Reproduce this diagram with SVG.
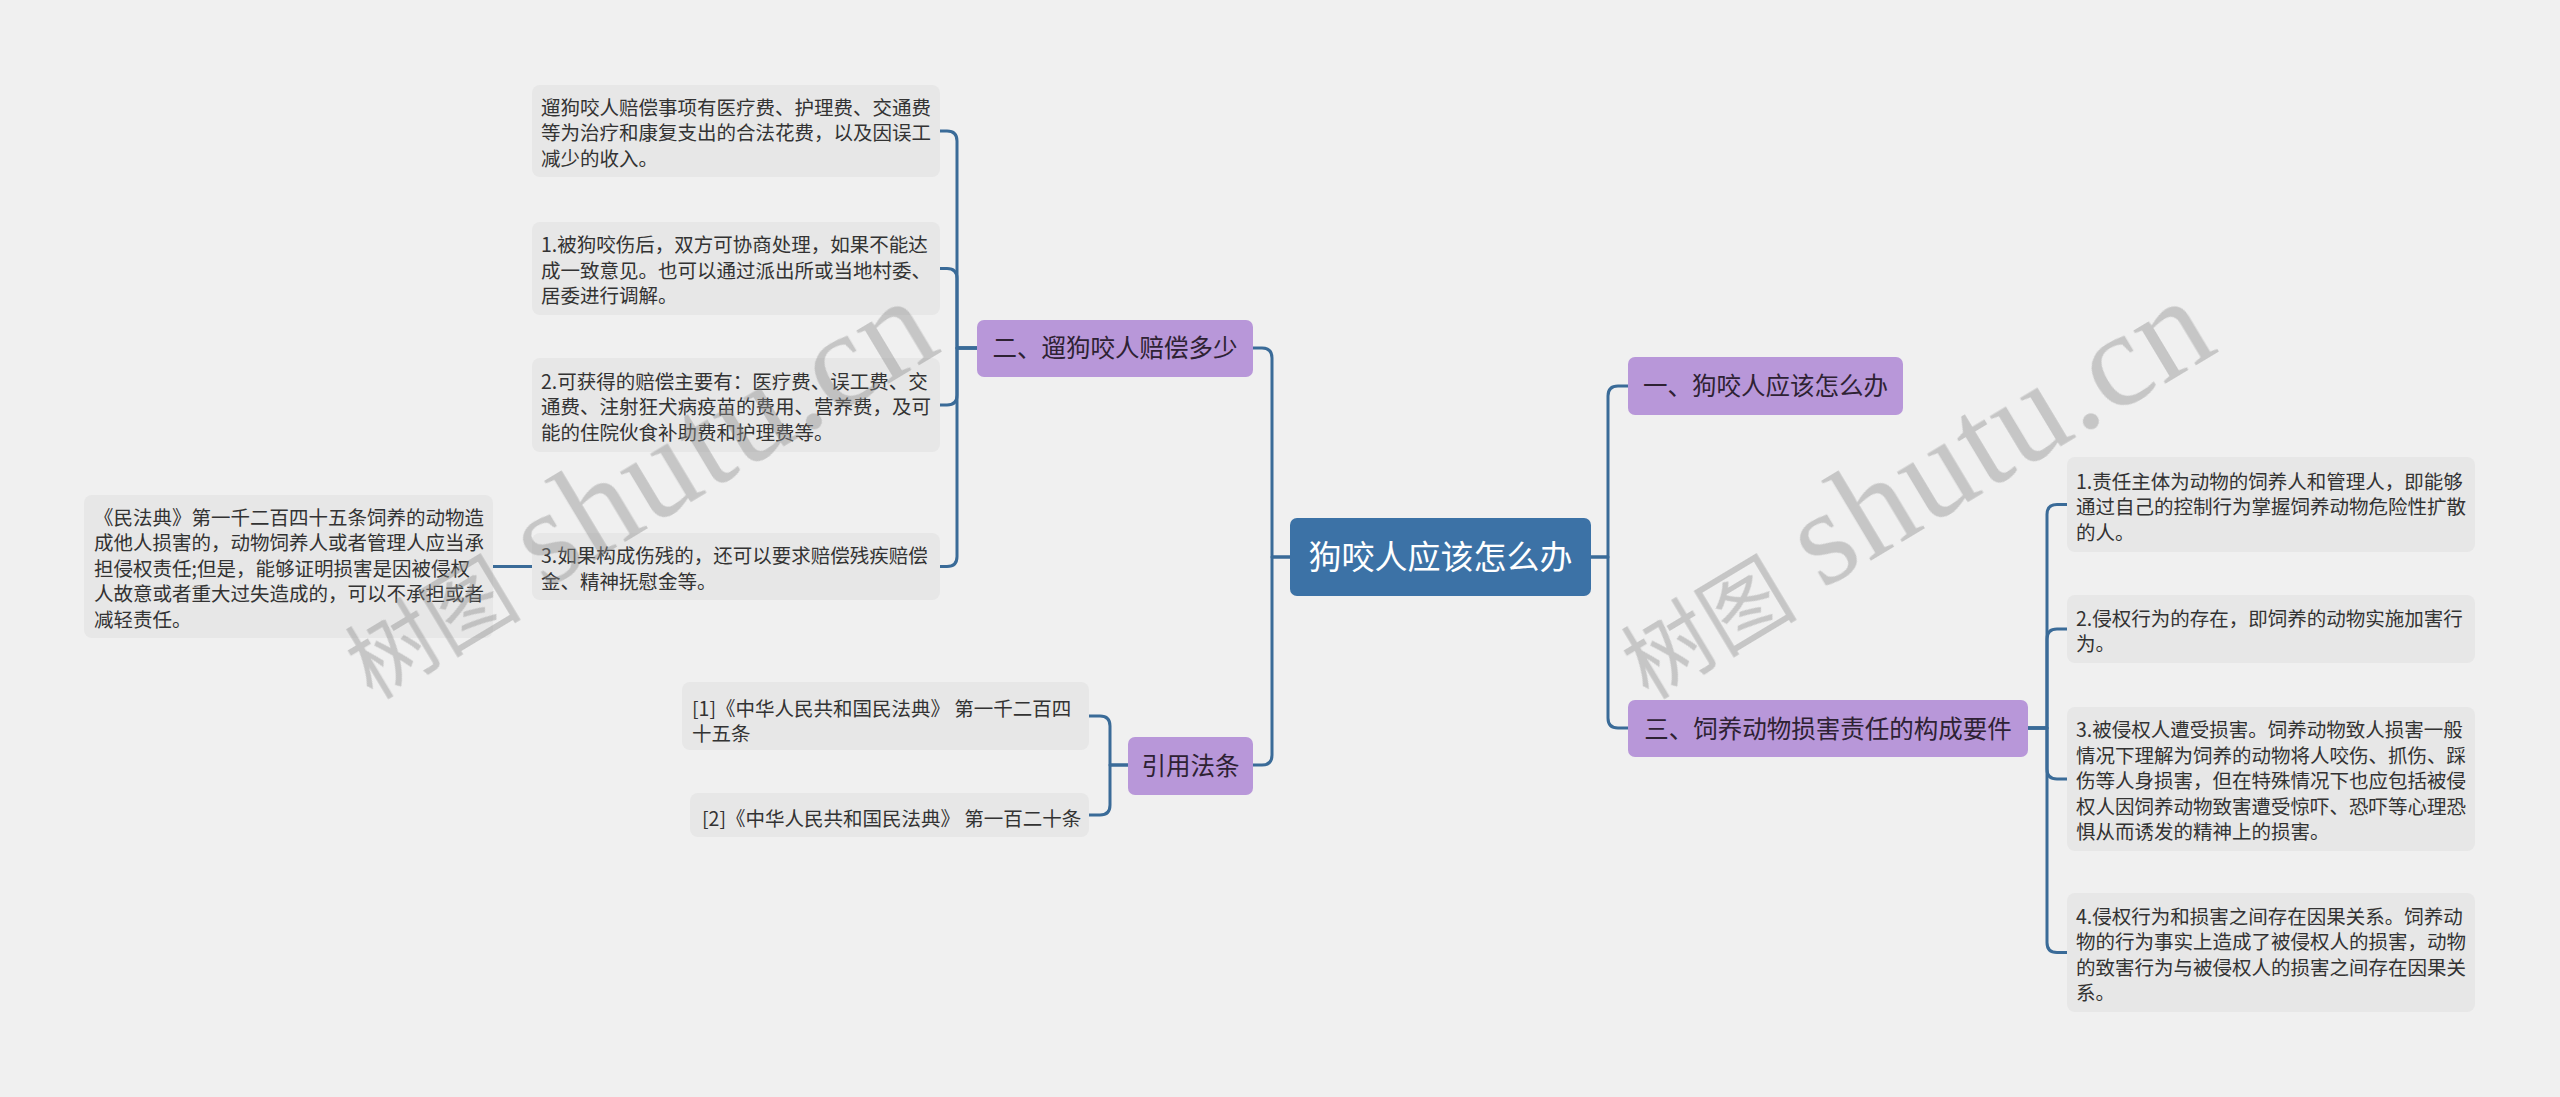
<svg xmlns="http://www.w3.org/2000/svg" width="2560" height="1097" viewBox="0 0 2560 1097">
<style>
.bg{fill:#f0f0f0}
.leaf{fill:#e7e7e7}
.branch{fill:#b897d9}
.root{fill:#3c72a6}
.lt{font-family:"Noto Sans CJK SC","Noto Sans",sans-serif;font-size:19.5px;fill:#333333}
.bt{font-family:"Noto Sans CJK SC","Noto Sans",sans-serif;font-size:24.5px;fill:#2e2233;text-anchor:middle}
.rt{font-family:"Noto Sans CJK SC","Noto Sans",sans-serif;font-size:33px;fill:#ffffff;text-anchor:middle}
.conn{fill:none;stroke:#3a6b98;stroke-width:3;stroke-linecap:round;stroke-linejoin:round}
.wm{fill:#8c8c8c;opacity:0.42}
.wmc{font-family:"Noto Sans CJK SC",serif;font-size:88px}
.wml{font-family:"Liberation Serif",serif;font-size:135px}
</style>
<rect class="bg" x="0" y="0" width="2560" height="1097"/>

<g id="connectors">
<path class="conn" d="M1290,557 H1272 V358 Q1272,348 1262,348 H1253"/>
<path class="conn" d="M1290,557 H1272 V755 Q1272,765 1262,765 H1253"/>
<path class="conn" d="M1591,557 H1608 V396 Q1608,386 1618,386 H1628"/>
<path class="conn" d="M1591,557 H1608 V718 Q1608,728 1618,728 H1628"/>
<path class="conn" d="M977,348 H957 V141 Q957,131 947,131 H940"/>
<path class="conn" d="M977,348 H957 V278.5 Q957,268.5 947,268.5 H940"/>
<path class="conn" d="M977,348 H957 V395 Q957,405 947,405 H940"/>
<path class="conn" d="M977,348 H957 V556.5 Q957,566.5 947,566.5 H940"/>
<path class="conn" d="M532,566.5 H493"/>
<path class="conn" d="M1128,765 H1110 V726 Q1110,716 1100,716 H1089"/>
<path class="conn" d="M1128,765 H1110 V805 Q1110,815 1100,815 H1089"/>
<path class="conn" d="M2028,728 H2047 V514.5 Q2047,504.5 2057,504.5 H2067"/>
<path class="conn" d="M2028,728 H2047 V639 Q2047,629 2057,629 H2067"/>
<path class="conn" d="M2028,728 H2047 V769 Q2047,779 2057,779 H2067"/>
<path class="conn" d="M2028,728 H2047 V942.5 Q2047,952.5 2057,952.5 H2067"/>
</g>

<g id="root">
<rect class="root" x="1290" y="518" width="301" height="78" rx="7"/>
<text class="rt" x="1440.5" y="569">狗咬人应该怎么办</text>
</g>

<g id="branch-er">
<rect class="branch" x="977" y="320" width="276" height="57" rx="7"/>
<text class="bt" x="1115" y="357">二、遛狗咬人赔偿多少</text>
</g>

<g id="branch-yinyong">
<rect class="branch" x="1128" y="737" width="125" height="58" rx="7"/>
<text class="bt" x="1190.5" y="775">引用法条</text>
</g>

<g id="branch-yi">
<rect class="branch" x="1628" y="357" width="275" height="58" rx="7"/>
<text class="bt" x="1765.5" y="395">一、狗咬人应该怎么办</text>
</g>

<g id="branch-san">
<rect class="branch" x="1628" y="700" width="400" height="57" rx="7"/>
<text class="bt" x="1828" y="737.5">三、饲养动物损害责任的构成要件</text>
</g>

<g id="leaf-l1">
<rect class="leaf" x="532" y="85" width="408" height="92" rx="8"/>
<text class="lt" x="541" y="114.5">遛狗咬人赔偿事项有医疗费、护理费、交通费</text>
<text class="lt" x="541" y="140">等为治疗和康复支出的合法花费，以及因误工</text>
<text class="lt" x="541" y="165.5">减少的收入。</text>
</g>

<g id="leaf-l2">
<rect class="leaf" x="532" y="222" width="408" height="93" rx="8"/>
<text class="lt" x="541" y="252">1.被狗咬伤后，双方可协商处理，如果不能达</text>
<text class="lt" x="541" y="277.5">成一致意见。也可以通过派出所或当地村委、</text>
<text class="lt" x="541" y="303">居委进行调解。</text>
</g>

<g id="leaf-l3">
<rect class="leaf" x="532" y="358" width="408" height="94" rx="8"/>
<text class="lt" x="541" y="388.5">2.可获得的赔偿主要有：医疗费、误工费、交</text>
<text class="lt" x="541" y="414">通费、注射狂犬病疫苗的费用、营养费，及可</text>
<text class="lt" x="541" y="439.5">能的住院伙食补助费和护理费等。</text>
</g>

<g id="leaf-l4">
<rect class="leaf" x="532" y="533" width="408" height="67" rx="8"/>
<text class="lt" x="541" y="563">3.如果构成伤残的，还可以要求赔偿残疾赔偿</text>
<text class="lt" x="541" y="588.5">金、精神抚慰金等。</text>
</g>

<g id="leaf-minfadian">
<rect class="leaf" x="84" y="495" width="409" height="143" rx="8"/>
<text class="lt" x="94" y="524.5">《民法典》第一千二百四十五条饲养的动物造</text>
<text class="lt" x="94" y="550">成他人损害的，动物饲养人或者管理人应当承</text>
<text class="lt" x="94" y="575.5">担侵权责任;但是，能够证明损害是因被侵权</text>
<text class="lt" x="94" y="601">人故意或者重大过失造成的，可以不承担或者</text>
<text class="lt" x="94" y="626.5">减轻责任。</text>
</g>

<g id="leaf-ref1">
<rect class="leaf" x="682" y="682" width="407" height="68" rx="8"/>
<text class="lt" x="692" y="716">[1]《中华人民共和国民法典》 第一千二百四</text>
<text class="lt" x="692" y="741">十五条</text>
</g>

<g id="leaf-ref2">
<rect class="leaf" x="690" y="793" width="399" height="44" rx="8"/>
<text class="lt" x="702" y="826">[2]《中华人民共和国民法典》 第一百二十条</text>
</g>

<g id="leaf-r1">
<rect class="leaf" x="2067" y="457" width="408" height="95" rx="8"/>
<text class="lt" x="2076" y="488.5">1.责任主体为动物的饲养人和管理人，即能够</text>
<text class="lt" x="2076" y="514">通过自己的控制行为掌握饲养动物危险性扩散</text>
<text class="lt" x="2076" y="539.5">的人。</text>
</g>

<g id="leaf-r2">
<rect class="leaf" x="2067" y="595" width="408" height="68" rx="8"/>
<text class="lt" x="2076" y="626">2.侵权行为的存在，即饲养的动物实施加害行</text>
<text class="lt" x="2076" y="651">为。</text>
</g>

<g id="leaf-r3">
<rect class="leaf" x="2067" y="707" width="408" height="144" rx="8"/>
<text class="lt" x="2076" y="737">3.被侵权人遭受损害。饲养动物致人损害一般</text>
<text class="lt" x="2076" y="762.5">情况下理解为饲养的动物将人咬伤、抓伤、踩</text>
<text class="lt" x="2076" y="788">伤等人身损害，但在特殊情况下也应包括被侵</text>
<text class="lt" x="2076" y="813.5">权人因饲养动物致害遭受惊吓、恐吓等心理恐</text>
<text class="lt" x="2076" y="839">惧从而诱发的精神上的损害。</text>
</g>

<g id="leaf-r4">
<rect class="leaf" x="2067" y="893" width="408" height="119" rx="8"/>
<text class="lt" x="2076" y="923.5">4.侵权行为和损害之间存在因果关系。饲养动</text>
<text class="lt" x="2076" y="949">物的行为事实上造成了被侵权人的损害，动物</text>
<text class="lt" x="2076" y="974.5">的致害行为与被侵权人的损害之间存在因果关</text>
<text class="lt" x="2076" y="1000">系。</text>
</g>

<g id="watermarks" class="wm">
<text class="wmc" transform="translate(372,700) rotate(-31)">树图</text>
<text class="wml" transform="translate(545,590) rotate(-31)" textLength="465">shutu.cn</text>
<text class="wmc" transform="translate(1648,700) rotate(-31)">树图</text>
<text class="wml" transform="translate(1822,590) rotate(-31)" textLength="465">shutu.cn</text>
</g>
</svg>
